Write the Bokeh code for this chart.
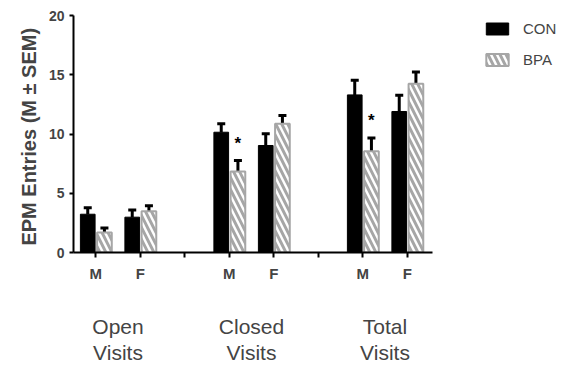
from bokeh.plotting import figure
from bokeh.models import (ColumnDataSource, FixedTicker, LinearAxis, Range1d,
                          Whisker, TeeHead, Legend, LegendItem)
from bokeh.core.properties import value
from bokeh.embed import file_html
from bokeh.resources import INLINE

# ---- data ----
groups = ["Open Visits", "Closed Visits", "Total Visits"]
sexes = ["M", "F"]
series = ["CON", "BPA"]
con_mean = [3.23, 2.98, 10.15, 9.03, 13.30, 11.90]
con_sem = [0.55, 0.60, 0.72, 1.00, 1.23, 1.37]
bpa_mean = [1.69, 3.48, 6.84, 10.86, 8.55, 14.24]
bpa_sem = [0.38, 0.46, 0.93, 0.71, 1.11, 0.99]
bpa_sig = [False, False, True, False, True, False]
y_ticks = [0, 5, 10, 15, 20]

FONT = "Liberation Sans"
GRAY = "#a6a6a6"

# category positions: M/F inside each group, separator between groups
pos = [1 + 3 * g + s for g in range(len(groups)) for s in range(len(sexes))]
sep = [3 * (g + 1) for g in range(len(groups) - 1)]
grp_pos = [1.5 + 3 * g for g in range(len(groups))]

W = 0.33
off_con, off_bpa = -0.18, 0.195

con_src = ColumnDataSource(dict(
    x=[p + off_con for p in pos], top=con_mean,
    upper=[m + e for m, e in zip(con_mean, con_sem)]))
bpa_src = ColumnDataSource(dict(
    x=[p + off_bpa for p in pos], top=bpa_mean,
    upper=[m + e for m, e in zip(bpa_mean, bpa_sem)]))

WIDTH, HEIGHT = 567, 366
LEFT, TOP, BOTTOM = 73, 15, 252
UNIT = 44.5
p = figure(width=WIDTH, height=HEIGHT, output_backend="svg", toolbar_location=None,
           x_range=Range1d(0.5, 0.5 + (WIDTH - LEFT) / UNIT), y_range=Range1d(0, 20),
           min_border_left=LEFT, min_border_top=TOP, min_border_right=0,
           min_border_bottom=HEIGHT - BOTTOM)
p.outline_line_color = None
p.xgrid.grid_line_color = None
p.ygrid.grid_line_color = None
p.background_fill_color = None
p.border_fill_color = "white"

r_con = p.vbar(x="x", top="top", width=W, source=con_src,
               fill_color="black", line_color="black", line_width=1)
r_bpa = p.vbar(x="x", top="top", width=W, source=bpa_src,
               fill_color="white", line_color=GRAY, line_width=2,
               hatch_pattern="left_diagonal_line", hatch_color=GRAY,
               hatch_weight=3, hatch_scale=12)

for src in (con_src, bpa_src):
    p.add_layout(Whisker(source=src, base="x", lower="top", upper="upper",
                         line_color="black", line_width=3, lower_head=None,
                         upper_head=TeeHead(size=8, line_width=3,
                                            line_color="black")))

# significance markers
sx = [x for x, s in zip(bpa_src.data["x"], bpa_sig) if s]
sy = [u + 1.45 for u, s in zip(bpa_src.data["upper"], bpa_sig) if s]
p.text(x=sx, y=sy, text=["*"] * len(sx), text_align="center",
       text_baseline="middle", text_font=value(FONT), text_font_size="17px",
       text_font_style="bold", text_color="black")

# y axis
ya = p.yaxis[0]
ya.ticker = FixedTicker(ticks=y_ticks)
ya.bounds = (0, 20)
ya.axis_line_width = 2
ya.major_tick_line_width = 2
ya.major_tick_out = 4
ya.major_tick_in = 0
ya.minor_tick_line_color = None
ya.major_label_standoff = 5
ya.major_label_text_font = FONT
ya.major_label_text_font_style = "bold"
ya.major_label_text_font_size = "14px"
ya.axis_label = "EPM Entries  (M \u00b1 SEM)"
ya.axis_label_text_font = FONT
ya.axis_label_text_font_style = "bold"
ya.axis_label_text_font_size = "20px"
ya.axis_label_standoff = 6

# x axis: M / F ticks with group separators
xa = p.xaxis[0]
xa.ticker = FixedTicker(ticks=sorted(pos + sep))
labels = {}
for i, t in enumerate(pos):
    labels[t] = sexes[i % 2]
for t in sep:
    labels[t] = ""
xa.major_label_overrides = labels
xa.bounds = (0.5, 8.56)
xa.axis_line_width = 2
xa.major_tick_line_width = 2
xa.major_tick_out = 5
xa.major_tick_in = 0
xa.minor_tick_line_color = None
xa.major_label_standoff = 7
xa.major_label_text_font = FONT
xa.major_label_text_font_style = "bold"
xa.major_label_text_font_size = "15px"

# group axes: two text lines per group
for line, standoff in ((0, 30), (1, 0)):
    ga = LinearAxis(ticker=FixedTicker(ticks=grp_pos),
                    major_label_overrides={t: g.split(" ")[line]
                                           for t, g in zip(grp_pos, groups)})
    ga.axis_line_color = None
    ga.major_tick_line_color = None
    ga.major_tick_out = 0
    ga.major_tick_in = 0
    ga.minor_tick_line_color = None
    ga.major_label_standoff = standoff
    ga.major_label_text_font = FONT
    ga.major_label_text_font_size = "21px"
    p.add_layout(ga, "below")

legend = Legend(items=[LegendItem(label=series[0], renderers=[r_con]),
                       LegendItem(label=series[1], renderers=[r_bpa])],
                location=(410, 184), orientation="vertical")
legend.border_line_color = None
legend.background_fill_alpha = 0
legend.padding = 0
legend.margin = 0
legend.spacing = 14
legend.glyph_width = 28
legend.glyph_height = 15
legend.label_height = 15
legend.label_standoff = 12
legend.label_text_font = FONT
legend.label_text_font_size = "15px"
p.add_layout(legend)

open("out.html", "w").write(file_html(p, INLINE))
